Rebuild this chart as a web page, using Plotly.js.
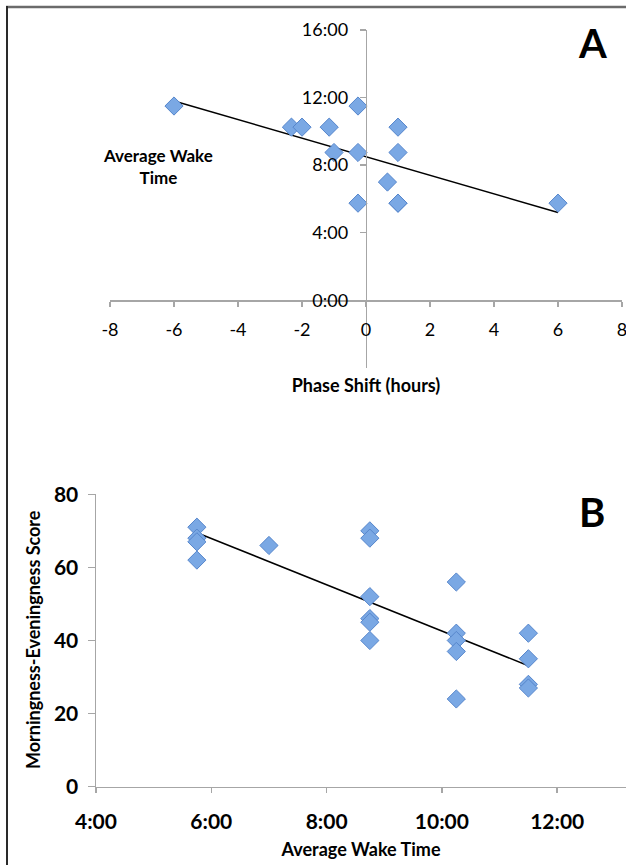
<!DOCTYPE html>
<html>
<head>
<meta charset="utf-8">
<script src="https://cdn.plot.ly/plotly-3.0.1.min.js"></script>
<style>html,body{margin:0;padding:0;background:#fff;}#chart{width:626px;height:865px;}</style>
</head>
<body>
<div id="chart"></div>
<script>
// ---- Panel A data ----
var phaseShift = [-6, -2.33, -2, -1.15, -1.0, -0.25, -0.25, -0.25, 1, 1, 0.67, 1, 1, 6];
var wakeA      = [11.5, 10.25, 10.25, 10.25, 8.75, 11.5, 8.75, 5.75, 10.25, 8.75, 7, 5.75, 5.75, 5.75];
var trendA_x = [-6, 6];
var trendA_y = [11.8, 5.2];
var xTickValsA = [-8, -6, -4, -2, 0, 2, 4, 6, 8];
var xTickTextA = ['-8', '-6', '-4', '-2', '0', '2', '4', '6', '8'];
var yTickValsA = [0, 4, 8, 12, 16];
var yTickTextA = ['0:00', '4:00', '8:00', '12:00', '16:00'];

// ---- Panel B data ----
var wakeB  = [5.75, 5.75, 5.75, 5.75, 7, 8.75, 8.75, 8.75, 8.75, 8.75, 8.75, 10.25, 10.25, 10.25, 10.25, 10.25, 11.5, 11.5, 11.5, 11.5];
var scoreB = [71, 68, 67, 62, 66, 70, 68, 52, 46, 45, 40, 56, 42, 40, 37, 24, 42, 35, 28, 27];
var trendB_x = [5.75, 11.5];
var trendB_y = [69.5, 33.1];
var xTickValsB = [4, 6, 8, 10, 12];
var xTickTextB = ['4:00', '6:00', '8:00', '10:00', '12:00'];
var yTicksB = [0, 20, 40, 60, 80];

var W = 626, H = 865;
function px(x){ return x / W; }
function py(y){ return 1 - y / H; }

var FONT = 'Lato, "Open Sans", sans-serif';
var AX = '#a6a6a6';
var markerStyle = {symbol: 'diamond', size: 14, color: '#7aa8e4', line: {color: '#5686cc', width: 1}};

var traces = [
  {x: trendA_x, y: trendA_y, xaxis: 'x', yaxis: 'y', mode: 'lines', line: {color: '#000', width: 1.5}, hoverinfo: 'skip'},
  {x: phaseShift, y: wakeA, xaxis: 'x', yaxis: 'y', mode: 'markers', marker: markerStyle},
  {x: trendB_x, y: trendB_y, xaxis: 'x2', yaxis: 'y2', mode: 'lines', line: {color: '#000', width: 1.5}, hoverinfo: 'skip'},
  {x: wakeB, y: scoreB, xaxis: 'x2', yaxis: 'y2', mode: 'markers', marker: markerStyle}
];

var layout = {
  width: W, height: H,
  margin: {l: 0, r: 0, t: 0, b: 0},
  paper_bgcolor: '#fff', plot_bgcolor: 'rgba(0,0,0,0)',
  showlegend: false,
  font: {family: FONT, color: '#000'},
  xaxis: {
    domain: [px(110), px(622)], range: [-8, 8], anchor: 'free', position: py(300.3),
    tickvals: xTickValsA, ticktext: xTickTextA, showline: true, linecolor: AX, linewidth: 1.5,
    ticks: 'outside', ticklen: 5, tickcolor: AX, tickwidth: 1.5, ticklabeloverflow: 'allow',
    tickfont: {family: FONT, size: 18, color: '#000'}, ticklabelstandoff: 8,
    showgrid: false, zeroline: false,
    title: {text: 'Phase Shift (hours)', font: {family: FONT, size: 18, weight: 'bold', color: '#000'}, standoff: 40}
  },
  yaxis: {
    domain: [py(367.9), py(30)], range: [-4, 16], anchor: 'free', position: px(365.7),
    tickvals: yTickValsA, ticktext: yTickTextA, showline: true, linecolor: AX, linewidth: 1.5,
    ticks: 'outside', ticklen: 6, tickcolor: AX, tickwidth: 1.5,
    tickfont: {family: FONT, size: 18, color: '#000'}, ticklabelstandoff: 8,
    showgrid: false, zeroline: false
  },
  xaxis2: {
    domain: [px(96), 1], range: [4, 4 + 530 / 57.65], anchor: 'y2',
    tickvals: xTickValsB, ticktext: xTickTextB, showline: true, linecolor: AX, linewidth: 1.5,
    ticks: 'outside', ticklen: 5, tickcolor: AX, tickwidth: 1.5,
    tickfont: {family: FONT, size: 21, weight: 'bold', color: '#000'}, ticklabelstandoff: 11,
    showgrid: false, zeroline: false,
    title: {text: 'Average Wake Time', font: {family: FONT, size: 18, weight: 'bold', color: '#000'}, standoff: 11}
  },
  yaxis2: {
    domain: [py(786.7), py(494.3)], range: [0, 80], anchor: 'x2',
    tickvals: yTicksB, showline: true, linecolor: AX, linewidth: 1.5,
    ticks: 'outside', ticklen: 7, tickcolor: AX, tickwidth: 1.5,
    tickfont: {family: FONT, size: 21, weight: 'bold', color: '#000'}, ticklabelstandoff: 5,
    showgrid: false, zeroline: false
  },
  annotations: [
    {text: 'Morningness-Eveningness Score', xref: 'paper', yref: 'paper', x: px(33), y: py(640), textangle: -90,
     xanchor: 'center', yanchor: 'middle', showarrow: false, font: {family: FONT, size: 18, weight: 'bold', color: '#000'}},
    {text: 'Average Wake<br>Time', xref: 'paper', yref: 'paper', x: px(158), y: py(166), xanchor: 'center', yanchor: 'middle',
     showarrow: false, font: {family: FONT, size: 17, weight: 'bold', color: '#000'}, align: 'center'},
    {text: 'A', xref: 'paper', yref: 'paper', x: px(592), y: py(43), xanchor: 'center', yanchor: 'middle',
     showarrow: false, font: {family: FONT, size: 40, weight: 'bold', color: '#000'}},
    {text: 'B', xref: 'paper', yref: 'paper', x: px(592), y: py(512), xanchor: 'center', yanchor: 'middle',
     showarrow: false, font: {family: FONT, size: 40, weight: 'bold', color: '#000'}}
  ],
  shapes: [
    {type: 'line', xref: 'paper', yref: 'paper', x0: px(6), x1: 1, y0: py(7), y1: py(7), line: {color: '#6b6b6b', width: 2.5}},
    {type: 'line', xref: 'paper', yref: 'paper', x0: px(7), x1: px(7), y0: py(6), y1: 0, line: {color: '#2a2a2a', width: 2}}
  ]
};

Plotly.newPlot('chart', traces, layout, {displayModeBar: false, staticPlot: true});
</script>
</body>
</html>
